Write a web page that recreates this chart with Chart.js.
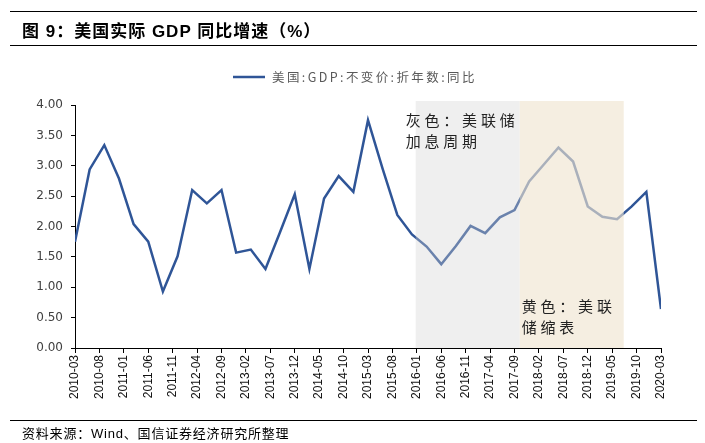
<!DOCTYPE html>
<html>
<head>
<meta charset="utf-8">
<script src="https://cdn.jsdelivr.net/npm/chart.js@4.4.1/dist/chart.umd.min.js"></script>
<style>
    html, body { margin: 0; padding: 0; background: #fff; }
    #wrap { position: relative; width: 705px; height: 443px; overflow: hidden; }
    #chart { position: absolute; left: 0; top: 0; }
    .rule { position: absolute; left: 10px; width: 687px; height: 0; border-top: 1.5px solid #000; }
    #title {
        position: absolute; left: 22px; top: 17px;
        font: bold 17px "Liberation Sans", "Noto Sans CJK SC", sans-serif; color: #000;
        letter-spacing: 1px; white-space: nowrap;
    }
    #source {
        position: absolute; left: 22px; top: 423px;
        font: 13px "Liberation Sans", "Noto Sans CJK SC", sans-serif; color: #000;
        letter-spacing: 0.8px; white-space: nowrap;
    }
</style>
</head>
<body>
<div id="wrap">
    <canvas id="chart" width="705" height="443"></canvas>
    <div class="rule" style="top:11px"></div>
    <div id="title">图 9：美国实际 GDP 同比增速（%）</div>
    <div class="rule" style="top:45px"></div>
    <div class="rule" style="top:420px"></div>
    <div id="source">资料来源：Wind、国信证券经济研究所整理</div>
</div>
<script>
// ---------- Data ----------
const quarters = [
    '2010-03', '2010-06', '2010-09', '2010-12',
    '2011-03', '2011-06', '2011-09', '2011-12',
    '2012-03', '2012-06', '2012-09', '2012-12',
    '2013-03', '2013-06', '2013-09', '2013-12',
    '2014-03', '2014-06', '2014-09', '2014-12',
    '2015-03', '2015-06', '2015-09', '2015-12',
    '2016-03', '2016-06', '2016-09', '2016-12',
    '2017-03', '2017-06', '2017-09', '2017-12',
    '2018-03', '2018-06', '2018-09', '2018-12',
    '2019-03', '2019-06', '2019-09', '2019-12',
    '2020-03'
];
const gdpYoY = [
    1.75, 2.94, 3.34, 2.79,
    2.04, 1.75, 0.93, 1.51,
    2.60, 2.38, 2.60, 1.57,
    1.62, 1.30, 1.91, 2.53,
    1.30, 2.46, 2.83, 2.57,
    3.75, 2.95, 2.19, 1.87,
    1.67, 1.38, 1.68, 2.01,
    1.89, 2.15, 2.27, 2.74,
    3.02, 3.30, 3.07, 2.33,
    2.16, 2.12, 2.33, 2.57,
    0.64
];
const xTickLabels = [
    '2010-03', '2010-08', '2011-01', '2011-06', '2011-11', '2012-04', '2012-09',
    '2013-02', '2013-07', '2013-12', '2014-05', '2014-10', '2015-03', '2015-08',
    '2016-01', '2016-06', '2016-11', '2017-04', '2017-09', '2018-02', '2018-07',
    '2018-12', '2019-05', '2019-10', '2020-03'
];
const seriesName = '美国:GDP:不变价:折年数:同比';
const hikePeriod = ['2015-12-24', '2017-10-03'];
const shrinkPeriod = ['2017-10-03', '2019-07-12'];
const hikeNote = ['灰色：美联储', '加息周期'];
const shrinkNote = ['黄色：美联', '储缩表'];

const lineBlue = '#2f5597';
const cjk = '"Noto Sans CJK SC", sans-serif';

// months since 2010-03 (day gives a fraction)
function toMonth(s) {
    const [y, m, d] = s.split('-').map(Number);
    return (y - 2010) * 12 + (m - 3) + (d ? (d - 1) / 30 : 0);
}

// Shaded periods, laid over the line like the original
const shadePlugin = {
    id: 'shade',
    afterDatasetsDraw(chart) {
        const { ctx, chartArea: { top, bottom }, scales: { x } } = chart;
        const bands = [
            { p: hikePeriod, color: 'rgba(211,211,211,0.36)' },
            { p: shrinkPeriod, color: 'rgba(240,229,208,0.64)' }
        ];
        ctx.save();
        bands.forEach(b => {
            const x0 = x.getPixelForValue(toMonth(b.p[0]));
            const x1 = x.getPixelForValue(toMonth(b.p[1]));
            ctx.fillStyle = b.color;
            ctx.fillRect(x0, top - 4, x1 - x0, bottom - top + 4);
        });
        // notes
        ctx.fillStyle = '#222';
        ctx.font = '15px ' + cjk;
        ctx.letterSpacing = '3.8px';
        ctx.textBaseline = 'middle';
        const hx = x.getPixelForValue(toMonth(hikePeriod[0])) - 10;
        hikeNote.forEach((t, i) => ctx.fillText(t, hx, 120 + i * 21));
        const sx = x.getPixelForValue(toMonth(shrinkPeriod[0])) + 2;
        shrinkNote.forEach((t, i) => ctx.fillText(t, sx, 306 + i * 21));
        ctx.restore();
    }
};

// Legend on top
const legendPlugin = {
    id: 'topLegend',
    afterDraw(chart) {
        const { ctx } = chart;
        ctx.save();
        ctx.strokeStyle = lineBlue;
        ctx.lineWidth = 2.5;
        ctx.beginPath();
        ctx.moveTo(233, 77);
        ctx.lineTo(265, 77);
        ctx.stroke();
        ctx.fillStyle = '#595959';
        ctx.font = '12.5px ' + cjk;
        ctx.letterSpacing = '2.4px';
        ctx.textBaseline = 'middle';
        ctx.fillText(seriesName, 272, 77);
        ctx.restore();
    }
};

new Chart(document.getElementById('chart'), {
    type: 'line',
    data: {
        datasets: [{
            label: seriesName,
            data: quarters.map((q, i) => ({ x: toMonth(q), y: gdpYoY[i] })),
            borderColor: lineBlue,
            borderWidth: 2.5,
            pointRadius: 0,
            tension: 0,
            fill: false
        }]
    },
    options: {
        responsive: false,
        animation: false,
        layout: { padding: { top: 105, right: 44, left: 0, bottom: 0 } },
        plugins: { legend: { display: false }, tooltip: { enabled: false } },
        scales: {
            x: {
                type: 'linear',
                min: 0, max: 120,
                afterBuildTicks: s => { s.ticks = xTickLabels.map(l => ({ value: toMonth(l) })); },
                afterFit: s => { s.height = 95; },
                ticks: {
                    autoSkip: false,
                    minRotation: 90, maxRotation: 90,
                    padding: 2,
                    color: '#111',
                    font: { family: '"Liberation Sans", Arial, sans-serif', size: 12 },
                    callback: (v, i) => xTickLabels[i]
                },
                grid: { drawOnChartArea: false, drawTicks: true, tickLength: 5, color: '#000' },
                border: { color: '#000', width: 1 }
            },
            y: {
                min: 0, max: 4,
                afterFit: s => { s.width = 75; },
                ticks: {
                    stepSize: 0.5,
                    padding: 8,
                    color: '#404040',
                    font: { family: '"DejaVu Sans", sans-serif', size: 12 },
                    callback: v => v.toFixed(2)
                },
                grid: { drawOnChartArea: false, drawTicks: true, tickLength: 4, color: '#000' },
                border: { color: '#000', width: 1 }
            }
        }
    },
    plugins: [shadePlugin, legendPlugin]
});
</script>
</body>
</html>
